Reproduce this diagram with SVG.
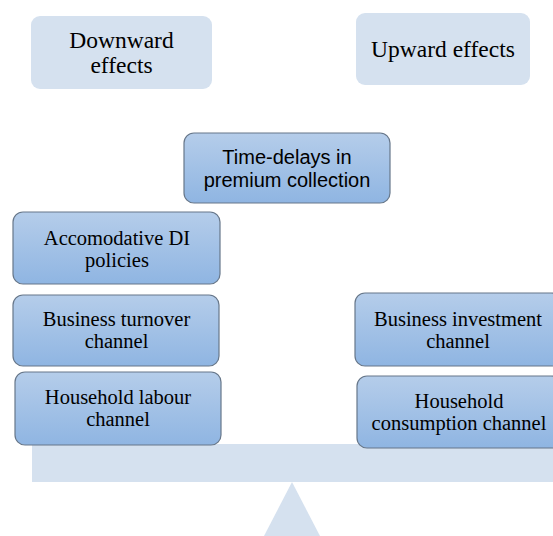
<svg xmlns="http://www.w3.org/2000/svg" width="553" height="536" viewBox="0 0 553 536">
<defs>
<linearGradient id="g" x1="0" y1="0" x2="0" y2="1">
<stop offset="0" stop-color="#b5cdea"/>
<stop offset="1" stop-color="#8fb5e2"/>
</linearGradient>
<style>
.pale{fill:#d5e1ef;}
.box{fill:url(#g);stroke:#67778a;stroke-width:1.2;}
.t{font-family:"Liberation Serif","Times New Roman",serif;font-size:20.5px;fill:#000;text-anchor:middle;}
.h{font-family:"Liberation Serif","Times New Roman",serif;font-size:23.5px;fill:#000;text-anchor:middle;}
.s{font-family:"Liberation Sans",Arial,sans-serif;font-size:20px;fill:#000;text-anchor:middle;}
</style>
</defs>
<rect width="553" height="536" fill="#ffffff"/>
<g id="scale">
<rect class="pale" x="32" y="444" width="521" height="38"/>
<polygon class="pale" points="292,482 320,536 264,536"/>
</g>
<g id="connectors"></g>
<g id="downward">
<rect class="pale" x="31" y="16" width="181" height="73" rx="9"/>
<text class="h" x="121.5" y="47.5">Downward</text>
<text class="h" x="121.5" y="72.5">effects</text>
</g>
<g id="upward">
<rect class="pale" x="356" y="13" width="174" height="72" rx="9"/>
<text class="h" x="443" y="57">Upward effects</text>
</g>
<g id="timedelays">
<rect class="box" x="184" y="133" width="206" height="70" rx="10"/>
<text class="s" x="287" y="164">Time-delays in</text>
<text class="s" x="287" y="187">premium collection</text>
</g>
<g id="accomodative">
<rect class="box" x="13" y="212" width="207" height="72" rx="10"/>
<text class="t" x="117" y="244.5">Accomodative DI</text>
<text class="t" x="117" y="266.5">policies</text>
</g>
<g id="turnover">
<rect class="box" x="13" y="295" width="206" height="71" rx="10"/>
<text class="t" x="116.5" y="326">Business turnover</text>
<text class="t" x="116.5" y="348">channel</text>
</g>
<g id="labour">
<rect class="box" x="15" y="372" width="206" height="73" rx="10"/>
<text class="t" x="118" y="404">Household labour</text>
<text class="t" x="118" y="426">channel</text>
</g>
<g id="investment">
<rect class="box" x="355" y="293" width="206" height="73" rx="10"/>
<text class="t" x="458" y="326">Business investment</text>
<text class="t" x="458" y="348">channel</text>
</g>
<g id="consumption">
<rect class="box" x="357" y="376" width="204" height="72" rx="10"/>
<text class="t" x="459" y="408">Household</text>
<text class="t" x="459" y="430">consumption channel</text>
</g>
</svg>
